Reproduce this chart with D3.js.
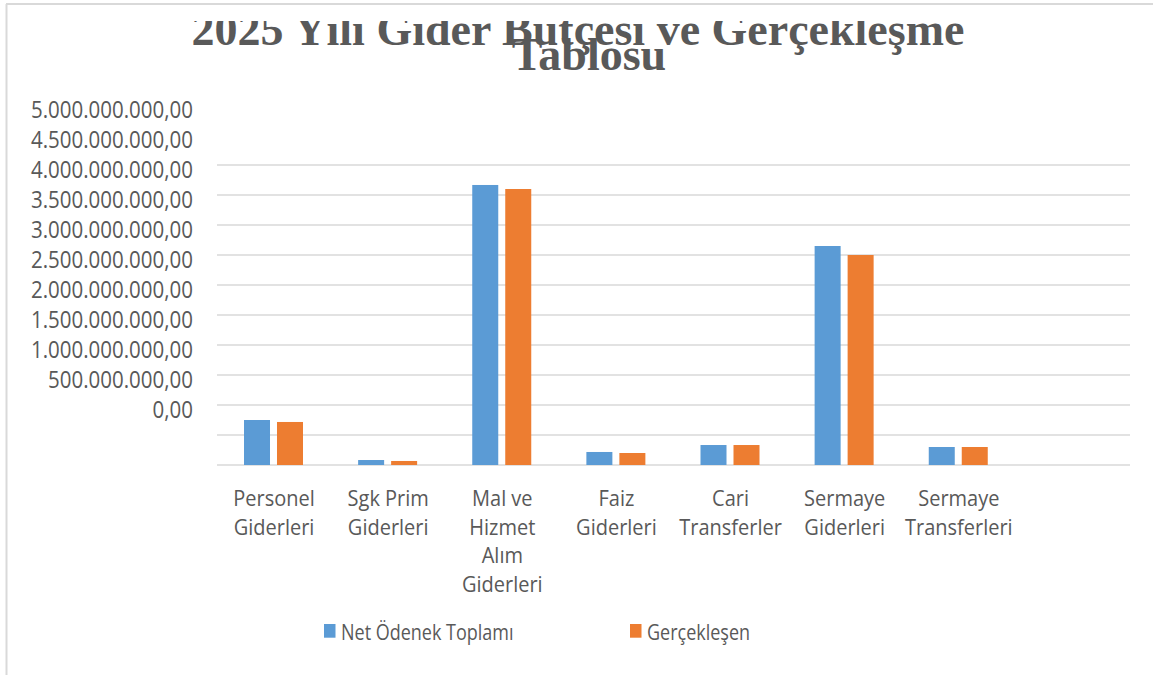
<!DOCTYPE html>
<html>
<head>
<meta charset="utf-8">
<script src="https://cdn.jsdelivr.net/npm/d3@7"></script>
<style>
  body { margin: 0; background: #fff; }
  svg text { font-family: "Open Sans", sans-serif; fill: #595959; }
</style>
</head>
<body>
<svg id="chart" width="1153" height="675"></svg>
<script>
// data (TL)
const titleLines = ["2025 Yılı Gider Bütçesi ve Gerçekleşme", "Tablosu"];
const categories = [
    "Personel\nGiderleri",
    "Sgk Prim\nGiderleri",
    "Mal ve\nHizmet\nAlım\nGiderleri",
    "Faiz\nGiderleri",
    "Cari\nTransferler",
    "Sermaye\nGiderleri",
    "Sermaye\nTransferleri",
    ""
];
const seriesNames = ["Net Ödenek Toplamı", "Gerçekleşen"];
const netOdenek = [750e6, 83e6, 4667e6, 217e6, 333e6, 3650e6, 300e6];
const gerceklesen = [717e6, 67e6, 4600e6, 200e6, 333e6, 3500e6, 300e6];
const yTicks = [0, 5e8, 1e9, 1.5e9, 2e9, 2.5e9, 3e9, 3.5e9, 4e9, 4.5e9, 5e9];
const colors = ["#5B9BD5", "#ED7D31"];

const svg = d3.select("#chart");

const margin = {left: 217, right: 1130, top: 165, bottom: 465};
const stretch = 1.13;

const trFormat = d3.formatLocale({decimal: ",", thousands: ".", grouping: [3], currency: ["", ""]}).format(",.2f");

const x = d3.scaleBand()
    .domain(d3.range(categories.length))
    .range([margin.left, margin.right])
    .padding(0);

const xInner = d3.scaleBand()
    .domain([0, 1])
    .range([27, 86])
    .paddingInner(0.212)
    .paddingOuter(0);

const y = d3.scaleLinear()
    .domain([0, 5e9])
    .range([margin.bottom, margin.top]);

// outer frame (only top and left edges show)
svg.append("line")
    .attr("x1", 6).attr("x2", 1153).attr("y1", 4).attr("y2", 4)
    .attr("stroke", "#d9d9d9").attr("stroke-width", 2);
svg.append("line")
    .attr("x1", 6.5).attr("x2", 6.5).attr("y1", 4).attr("y2", 675)
    .attr("stroke", "#d9d9d9").attr("stroke-width", 2);

// title, top of first line is clipped
svg.append("clipPath").attr("id", "titleClip")
    .append("rect").attr("x", 0).attr("y", 21).attr("width", 1153).attr("height", 80);

const titleG = svg.append("g").attr("clip-path", "url(#titleClip)");
titleG.selectAll("text")
    .data(titleLines)
    .join("text")
    .attr("x", (d, i) => i === 0 ? 578 : 589)
    .attr("y", (d, i) => i === 0 ? 45 : 70)
    .attr("text-anchor", "middle")
    .style("font-family", "'Liberation Serif', serif")
    .style("font-weight", "bold")
    .style("font-size", "46px")
    .text(d => d);

// gridlines
svg.append("g")
    .selectAll("line")
    .data(yTicks)
    .join("line")
    .attr("x1", margin.left)
    .attr("x2", margin.right)
    .attr("y1", d => y(d))
    .attr("y2", d => y(d))
    .attr("stroke", "#d9d9d9")
    .attr("stroke-width", 1.5);

// y axis labels sit 55px above their gridlines in the original
const yAxis = svg.append("g")
    .attr("transform", `translate(${193 + 0}, -55)`)
    .call(d3.axisLeft(y).tickValues(yTicks).tickFormat(trFormat).tickSize(0).tickPadding(0));
yAxis.select(".domain").remove();
yAxis.selectAll("text")
    .style("font-size", "20.5px")
    .attr("fill", "#595959")
    .attr("transform", `scale(1, ${stretch})`);

// bars
const rows = categories.map((c, i) => ({i: i, values: [netOdenek[i], gerceklesen[i]]}))
    .filter(d => d.values[0] != null);

svg.append("g")
    .selectAll("g")
    .data(rows)
    .join("g")
    .attr("transform", d => `translate(${x(d.i)}, 0)`)
    .selectAll("rect")
    .data(d => d.values.map((v, k) => ({k: k, v: v})))
    .join("rect")
    .attr("x", d => xInner(d.k))
    .attr("width", xInner.bandwidth())
    .attr("y", d => y(d.v))
    .attr("height", d => y(0) - y(d.v))
    .attr("fill", d => colors[d.k]);

// category labels
const catG = svg.append("g")
    .selectAll("g")
    .data(categories)
    .join("g")
    .attr("transform", (d, i) => `translate(${x(i) + x.bandwidth() / 2}, 506)`);

catG.selectAll("text")
    .data(d => d ? d.split("\n") : [])
    .join("text")
    .attr("text-anchor", "middle")
    .attr("transform", (d, j) => `translate(0, ${j * 28.5}) scale(1, ${stretch})`)
    .style("font-size", "20px")
    .text(d => d);

// legend
const legendX = [324, 630];
const legend = svg.append("g")
    .selectAll("g")
    .data(seriesNames)
    .join("g")
    .attr("transform", (d, i) => `translate(${legendX[i]}, 640)`);

legend.append("rect")
    .attr("x", 0)
    .attr("y", -16)
    .attr("width", 11.5)
    .attr("height", 13.7)
    .attr("fill", (d, i) => colors[i]);

legend.append("text")
    .attr("x", 17)
    .attr("transform", "scale(1, 1.17)")
    .style("font-size", "18px")
    .text(d => d);
</script>
</body>
</html>
